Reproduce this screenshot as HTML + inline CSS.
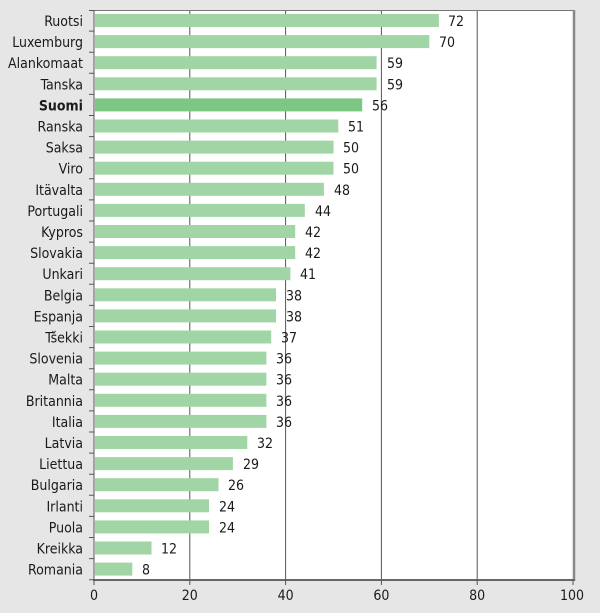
<!DOCTYPE html>
<html><head><meta charset="utf-8"><style>
body{margin:0;background:#e6e6e6;overflow:hidden}
text{font-family:"Liberation Sans Narrow","DejaVu Sans Condensed","Liberation Sans",sans-serif;font-size:14px;fill:#1a1a1a}
</style></head><body>
<svg width="600" height="613" xmlns="http://www.w3.org/2000/svg" style="display:block">
<rect width="600" height="613" fill="#e6e6e6"/>
<rect x="94" y="10" width="480" height="570" fill="#fff"/>
<g stroke="#555" stroke-width="1">
<line x1="189.8" y1="10" x2="189.8" y2="580"/><line x1="285.6" y1="10" x2="285.6" y2="580"/><line x1="381.4" y1="10" x2="381.4" y2="580"/><line x1="477.2" y1="10" x2="477.2" y2="580"/>
</g>
<line x1="94" y1="10.5" x2="574" y2="10.5" stroke="#777" stroke-width="1"/>
<line x1="574" y1="10" x2="574" y2="581" stroke="#888" stroke-width="2.5"/>
<line x1="93" y1="580" x2="575" y2="580" stroke="#666" stroke-width="2"/>
<line x1="94" y1="10" x2="94" y2="581" stroke="#555" stroke-width="1"/>
<g stroke="#555">
<path d="M89 10.5h5M89 31.1h5M89 52.2h5M89 73.3h5M89 94.4h5M89 115.5h5M89 136.6h5M89 157.7h5M89 178.8h5M89 199.9h5M89 221h5M89 242.1h5M89 263.2h5M89 284.3h5M89 305.4h5M89 326.5h5M89 347.6h5M89 368.7h5M89 389.8h5M89 410.9h5M89 432h5M89 453.1h5M89 474.2h5M89 495.3h5M89 516.4h5M89 537.5h5M89 558.6h5M89 579.7h5"/>
<path d="M94 580v5M189.8 580v5M285.6 580v5M381.4 580v5M477.2 580v5M573 580v5"/>
</g>
<g fill="#a2d5a6">
<rect x="95" y="14" width="343.9" height="13"/>
<rect x="95" y="35.1" width="334.3" height="13"/>
<rect x="95" y="56.2" width="281.6" height="13"/>
<rect x="95" y="77.3" width="281.6" height="13"/>
<rect x="95" y="98.4" width="267.2" height="13" fill="#7dc785"/>
<rect x="95" y="119.5" width="243.3" height="13"/>
<rect x="95" y="140.6" width="238.5" height="13"/>
<rect x="95" y="161.7" width="238.5" height="13"/>
<rect x="95" y="182.8" width="228.9" height="13"/>
<rect x="95" y="203.9" width="209.8" height="13"/>
<rect x="95" y="225" width="200.2" height="13"/>
<rect x="95" y="246.1" width="200.2" height="13"/>
<rect x="95" y="267.2" width="195.4" height="13"/>
<rect x="95" y="288.3" width="181" height="13"/>
<rect x="95" y="309.4" width="181" height="13"/>
<rect x="95" y="330.5" width="176.2" height="13"/>
<rect x="95" y="351.6" width="171.4" height="13"/>
<rect x="95" y="372.7" width="171.4" height="13"/>
<rect x="95" y="393.8" width="171.4" height="13"/>
<rect x="95" y="414.9" width="171.4" height="13"/>
<rect x="95" y="436" width="152.3" height="13"/>
<rect x="95" y="457.1" width="137.9" height="13"/>
<rect x="95" y="478.2" width="123.5" height="13"/>
<rect x="95" y="499.3" width="114" height="13"/>
<rect x="95" y="520.4" width="114" height="13"/>
<rect x="95" y="541.5" width="56.5" height="13"/>
<rect x="95" y="562.6" width="37.3" height="13"/>
</g>
<g text-anchor="end">
<text x="83" y="26">Ruotsi</text><text x="83" y="47.1">Luxemburg</text><text x="83" y="68.2">Alankomaat</text><text x="83" y="89.3">Tanska</text><text x="83" y="110.4" font-weight="bold">Suomi</text><text x="83" y="131.5">Ranska</text><text x="83" y="152.6">Saksa</text><text x="83" y="173.7">Viro</text><text x="83" y="194.8">Itävalta</text><text x="83" y="215.9">Portugali</text><text x="83" y="237">Kypros</text><text x="83" y="258.1">Slovakia</text><text x="83" y="279.2">Unkari</text><text x="83" y="300.3">Belgia</text><text x="83" y="321.4">Espanja</text><text x="83" y="342.5">Tšekki</text><text x="83" y="363.6">Slovenia</text><text x="83" y="384.7">Malta</text><text x="83" y="405.8">Britannia</text><text x="83" y="426.9">Italia</text><text x="83" y="448">Latvia</text><text x="83" y="469.1">Liettua</text><text x="83" y="490.2">Bulgaria</text><text x="83" y="511.3">Irlanti</text><text x="83" y="532.4">Puola</text><text x="83" y="553.5">Kreikka</text><text x="83" y="574.6">Romania</text>
</g>
<g>
<text x="448" y="26">72</text><text x="439" y="47.1">70</text><text x="387" y="68.2">59</text><text x="387" y="89.3">59</text><text x="372" y="110.4">56</text><text x="348" y="131.5">51</text><text x="343" y="152.6">50</text><text x="343" y="173.7">50</text><text x="334" y="194.8">48</text><text x="315" y="215.9">44</text><text x="305" y="237">42</text><text x="305" y="258.1">42</text><text x="300" y="279.2">41</text><text x="286" y="300.3">38</text><text x="286" y="321.4">38</text><text x="281" y="342.5">37</text><text x="276" y="363.6">36</text><text x="276" y="384.7">36</text><text x="276" y="405.8">36</text><text x="276" y="426.9">36</text><text x="257" y="448">32</text><text x="243" y="469.1">29</text><text x="228" y="490.2">26</text><text x="219" y="511.3">24</text><text x="219" y="532.4">24</text><text x="161" y="553.5">12</text><text x="142" y="574.6">8</text>
</g>
<g text-anchor="middle">
<text x="94" y="600">0</text><text x="189.8" y="600">20</text><text x="285.6" y="600">40</text><text x="381.4" y="600">60</text><text x="477.2" y="600">80</text><text x="572" y="600">100</text>
</g>
</svg>
</body></html>
